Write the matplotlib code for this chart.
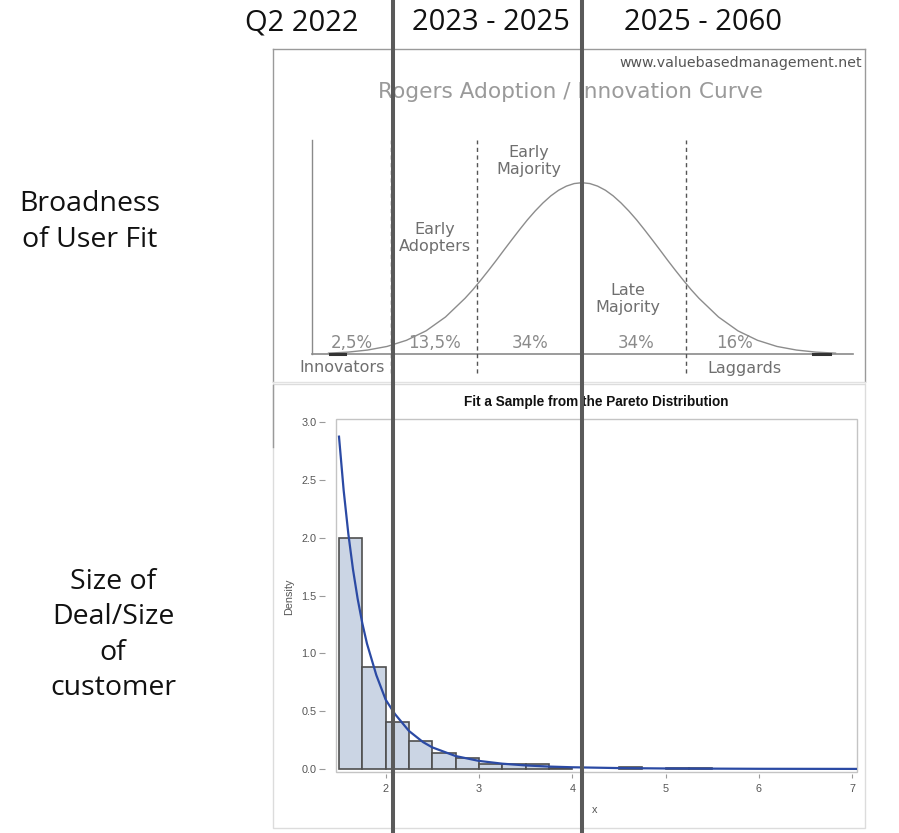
import matplotlib
matplotlib.use("Agg")
import matplotlib.pyplot as plt
from matplotlib.lines import Line2D
from matplotlib.patches import Rectangle

# ---------------- data ----------------
period_labels = ["Q2 2022", "2023 - 2025", "2025 - 2060"]
row_labels = ["Broadness\nof User Fit", "Size of\nDeal/Size\nof\ncustomer"]

# Rogers adoption curve (x in std-dev units of the drawn bell, y relative to peak)
bell_x = [-3.25, -3.0, -2.75, -2.5, -2.25, -2.0, -1.75, -1.5, -1.4, -1.3, -1.2, -1.1,
          -1.0, -0.9, -0.8, -0.7, -0.6, -0.5, -0.4, -0.3, -0.2, -0.1, 0.0,
          0.1, 0.2, 0.3, 0.4, 0.5, 0.6, 0.7, 0.8, 0.9, 1.0, 1.1, 1.2, 1.3, 1.4,
          1.5, 1.75, 2.0, 2.25, 2.5, 2.75, 3.0, 3.25]
bell_y = [0.005, 0.011, 0.023, 0.044, 0.080, 0.135, 0.216, 0.325, 0.375, 0.430, 0.487, 0.546,
          0.607, 0.667, 0.726, 0.783, 0.835, 0.882, 0.923, 0.956, 0.980, 0.995, 1.000,
          0.995, 0.980, 0.956, 0.923, 0.882, 0.835, 0.783, 0.726, 0.667, 0.607, 0.546, 0.487, 0.430, 0.375,
          0.325, 0.216, 0.135, 0.080, 0.044, 0.023, 0.011, 0.005]
segment_bounds = [-2.45, -1.35, 0.0, 1.33]
segment_names = ["Innovators", "Early\nAdopters", "Early\nMajority", "Late\nMajority", "Laggards"]
segment_shares = ["2,5%", "13,5%", "34%", "34%", "16%"]

# Pareto sample histogram
bin_left = [1.5, 1.75, 2.0, 2.25, 2.5, 2.75, 3.0, 3.25, 3.5, 3.75, 4.0, 4.25, 4.5, 4.75, 5.0, 5.25]
bin_density = [2.0, 0.88, 0.405, 0.24, 0.142, 0.092, 0.045, 0.045, 0.04, 0.012, 0.0, 0.0, 0.016, 0.0, 0.01, 0.01]
bin_width = 0.25
# fitted density curve
fit_x = [1.5, 1.55, 1.6, 1.65, 1.7, 1.75, 1.8, 1.9, 2.0, 2.1, 2.25, 2.4, 2.5, 2.75,
         3.0, 3.25, 3.5, 3.75, 4.0, 4.5, 5.0, 6.0, 7.05]
fit_y = [2.875, 2.41, 2.035, 1.726, 1.472, 1.26, 1.084, 0.812, 0.60, 0.475, 0.329, 0.233, 0.187, 0.112,
         0.070, 0.046, 0.031, 0.021, 0.015, 0.008, 0.0046, 0.0017, 0.0008]
x_ticks = [2, 3, 4, 5, 6, 7]
y_ticks = [0.0, 0.5, 1.0, 1.5, 2.0, 2.5, 3.0]

# ---------------- figure ----------------
W, H = 899, 833
fig = plt.figure(figsize=(W / 100, H / 100), dpi=100)
fig.patch.set_facecolor("white")


def fx(px):
    return px / W


def fy(py):
    return 1 - py / H


# ---------- top panel: Rogers curve ----------
cx, sx = 582.0, 78.0      # px of curve centre, px per unit
by, sy = 354.0, 171.3     # px of baseline, px per unit
L, R, T, B = 273, 865, 49, 382
ax1 = fig.add_axes([fx(L), fy(B), (R - L) / W, (B - T) / H])
ax1.set_xlim((L - cx) / sx, (R - cx) / sx)
ax1.set_ylim((by - B) / sy, (by - T) / sy)
ax1.set_xticks([])
ax1.set_yticks([])
for k, sp in ax1.spines.items():
    sp.set_color("#9a9a9a" if k != "bottom" else "#e2e2e2")
    sp.set_linewidth(1.0)

ytop = (by - 140) / sy
yl = (312.3 - cx) / sx
xr = (852.7 - cx) / sx
ax1.plot([yl, yl], [0, ytop], color="#8a8a8a", lw=1.0)
ax1.plot([yl, xr], [0, 0], color="#8a8a8a", lw=1.2)
for b in segment_bounds:
    ax1.plot([b, b], [(by - 373) / sy, ytop], color="#555555", lw=1.0,
             linestyle=(0, (3, 2.5)))
ax1.plot(bell_x, bell_y, color="#8c8c8c", lw=1.0)
# dark tail marks on the baseline
ax1.plot([(330 - cx) / sx, (345 - cx) / sx], [0, 0], color="#333333", lw=2.2)
ax1.plot([(813 - cx) / sx, (830 - cx) / sx], [0, 0], color="#333333", lw=2.2)

gray_txt = "#6f6f6f"
fig.text(fx(862), fy(63), "www.valuebasedmanagement.net", ha="right", va="center",
         fontsize=10.2, color="#555555", family="DejaVu Sans")
fig.text(fx(570), fy(92), "Rogers Adoption / Innovation Curve", ha="center", va="center",
         fontsize=15.6, color="#9a9a9a", family="DejaVu Sans")

name_pos = [(342, 368), (435, 238), (529, 161), (628, 299), (744, 368)]
for name, (px, py) in zip(segment_names, name_pos):
    fig.text(fx(px), fy(py), name, ha="center", va="center", fontsize=11.5,
             color=gray_txt, family="DejaVu Sans", linespacing=1.1)
share_pos = [352, 434, 530, 636, 734]
for share, px in zip(segment_shares, share_pos):
    fig.text(fx(px), fy(343), share, ha="center", va="center", fontsize=12,
             color="#8a8a8a", family="DejaVu Sans")

# ---------- bottom panel: Pareto histogram ----------
fig.add_artist(Rectangle((fx(273), fy(828)), (865 - 273) / W, (828 - 384) / H,
                         transform=fig.transFigure, fill=False, ec="#dcdcdc", lw=1.0))
fig.add_artist(Line2D([fx(273), fx(273)], [fy(385), fy(447)], transform=fig.transFigure,
                      color="#9a9a9a", lw=1.0))

px0, ppx = 339.0, 93.3    # px of x=1.5, px per unit
py0, ppy = 769.0, 115.6   # px of y=0, px per unit
aL, aR, aT, aB = 336.0, 857.0, 418.7, 771.7
ax2 = fig.add_axes([fx(aL), fy(aB), (aR - aL) / W, (aB - aT) / H])
ax2.set_xlim(1.5 + (aL - px0) / ppx, 1.5 + (aR - px0) / ppx)
ax2.set_ylim((py0 - aB) / ppy, (py0 - aT) / ppy)
lefts = [l for l, h in zip(bin_left, bin_density) if h > 0]
heights = [h for h in bin_density if h > 0]
ax2.bar(lefts, heights, width=bin_width, align="edge", color="#cbd5e4",
        edgecolor="#4f4f4f", linewidth=1.2, zorder=2)
ax2.plot(fit_x, fit_y, color="#2b4aa4", lw=1.6, zorder=3)
ax2.set_xticks(x_ticks)
ax2.set_xticklabels([str(t) for t in x_ticks])
ax2.set_yticks(y_ticks)
ax2.set_yticklabels([f"{t:.1f}" for t in y_ticks])
# SAS-style: tick marks sit on offset axes, the plot wall is a separate frame
for sp in ax2.spines.values():
    sp.set_visible(False)
ax2.spines["left"].set_position(("outward", 8))
ax2.spines["bottom"].set_position(("outward", 1.5))
ax2.add_patch(Rectangle((0, 0), 1, 1, transform=ax2.transAxes, fill=False,
                        ec="#c4c4c4", lw=1.0, clip_on=False, zorder=1))
ax2.tick_params(axis="y", direction="out", length=4.5, width=0.8, color="#9a9a9a",
                labelcolor="#555555", labelsize=7.8, pad=1.5)
ax2.tick_params(axis="x", direction="out", length=3, width=0.8, color="#9a9a9a",
                labelcolor="#555555", labelsize=7.8, pad=4.5)
for lab in ax2.get_xticklabels() + ax2.get_yticklabels():
    lab.set_family("Liberation Sans")

fig.text(fx(596.5), fy(402), "Fit a Sample from the Pareto Distribution", ha="center",
         va="center", fontsize=9.8, fontweight="bold", color="#111111", family="Liberation Sans")
fig.text(fx(289), fy(597), "Density", ha="center", va="center", rotation=90,
         fontsize=7.8, color="#555555", family="Liberation Sans")
fig.text(fx(595), fy(810), "x", ha="center", va="center",
         fontsize=7.8, color="#555555", family="Liberation Sans")

# ---------- annotation layer ----------
head_x = [302, 491, 703]
for lab, px in zip(period_labels, head_x):
    fig.text(fx(px), fy(23), lab, ha="center", va="center", fontsize=21,
             color="#111111", family="Open Sans")
fig.text(fx(90), fy(222), row_labels[0], ha="center", va="center", fontsize=20.5,
         color="#111111", family="Open Sans", linespacing=1.35)
fig.text(fx(113), fy(635), row_labels[1], ha="center", va="center", fontsize=20.5,
         color="#111111", family="Open Sans", linespacing=1.35)

for px in [393, 581.5]:
    fig.add_artist(Line2D([fx(px), fx(px)], [0, 1], transform=fig.transFigure,
                          color="#5a5a5a", lw=2.9, zorder=20))

fig.savefig("out.png", dpi=100, facecolor="white")
